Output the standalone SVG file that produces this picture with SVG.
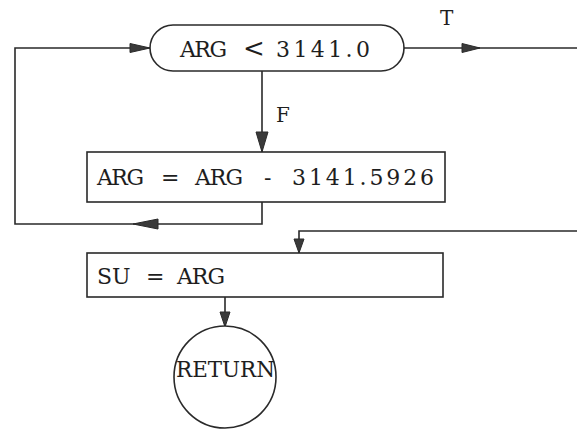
<svg xmlns="http://www.w3.org/2000/svg" width="577" height="429" viewBox="0 0 577 429">
<style>
.shape{fill:#fff;stroke:#2a2a2a;stroke-width:1.6}
.line{fill:none;stroke:#2a2a2a;stroke-width:1.6}
.head{fill:#3a3a3a;stroke:#2a2a2a;stroke-width:1}
.lbl{font-family:"DejaVu Serif","Liberation Serif",serif;font-size:22px;fill:#1e1e1e}
.small{font-family:"DejaVu Serif","Liberation Serif",serif;font-size:20px;fill:#1e1e1e}
</style>
<rect width="577" height="429" fill="#fff"/>
<g id="connectors">
  <polyline class="line" points="262,202 262,224 15,224 15,48 150,48"/>
  <line class="line" x1="262" y1="71" x2="262" y2="152"/>
  <line class="line" x1="404" y1="48" x2="577" y2="48"/>
  <polyline class="line" points="577,231 299,231 299,253"/>
  <line class="line" x1="225" y1="297" x2="225" y2="327"/>
  <polygon class="head" points="150,48 130,43.5 130,52.5"/>
  <polygon class="head" points="133,224 158,219 158,229"/>
  <polygon class="head" points="262,152 256,132 268,132"/>
  <polygon class="head" points="480,48 462,43.5 462,52.5"/>
  <polygon class="head" points="299,253 294,239 304,239"/>
  <polygon class="head" points="225,327 220,312 230,312"/>
  <text class="small" x="276" y="122">F</text>
  <text class="small" x="440" y="25">T</text>
</g>
<g id="decision">
  <rect class="shape" x="150" y="25" width="254" height="46" rx="23" ry="23"/>
  <text class="lbl" y="57"><tspan x="180" textLength="47">ARG</tspan><tspan x="243" font-size="26">&lt;</tspan><tspan x="276" textLength="94">3141.0</tspan></text>
</g>
<g id="subtract">
  <rect class="shape" x="87" y="152" width="358" height="50"/>
  <text class="lbl" y="185"><tspan x="97" textLength="47">ARG</tspan><tspan x="161">=</tspan><tspan x="195" textLength="48">ARG</tspan><tspan x="264">-</tspan><tspan x="292" textLength="142">3141.5926</tspan></text>
</g>
<g id="assign">
  <rect class="shape" x="87" y="253" width="356" height="44"/>
  <text class="lbl" y="284"><tspan x="97">SU</tspan><tspan x="146">=</tspan><tspan x="177" textLength="48">ARG</tspan></text>
</g>
<g id="return">
  <circle class="shape" cx="225" cy="377" r="51"/>
  <text class="lbl" x="176" y="377" textLength="99" lengthAdjust="spacingAndGlyphs">RETURN</text>
</g>
</svg>
